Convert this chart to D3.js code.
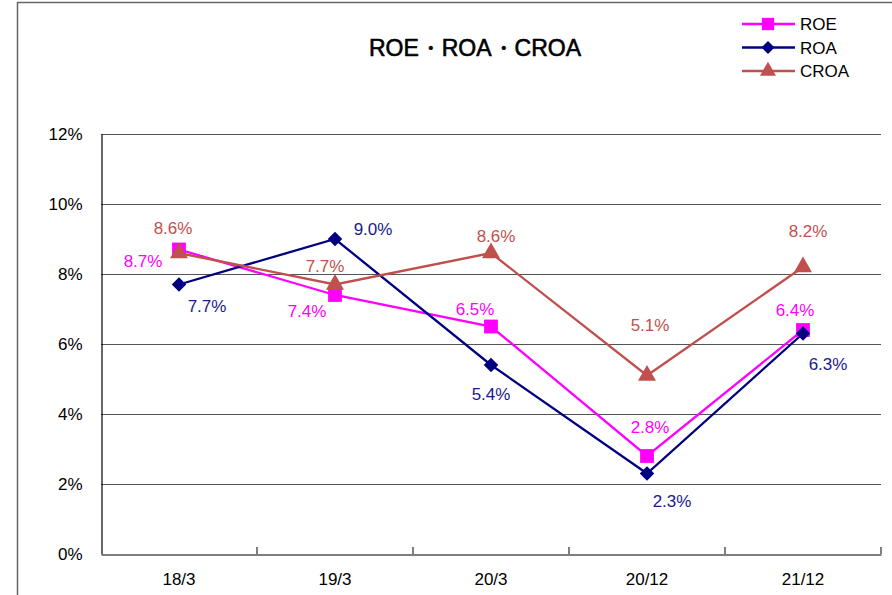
<!DOCTYPE html>
<html>
<head>
<meta charset="utf-8">
<script src="https://cdn.jsdelivr.net/npm/d3@7"></script>
<style>
  body { margin: 0; background: #fff; }
  text { font-family: "Liberation Sans", Arial, sans-serif; }
</style>
</head>
<body>
<div class="chart"></div>
<script>
// ROE / ROA / CROA line chart

let categories = ["18/3", "19/3", "20/3", "20/12", "21/12"];
let roe  = [8.7, 7.4, 6.5, 2.8, 6.4];
let roa  = [7.7, 9.0, 5.4, 2.3, 6.3];
let croa = [8.6, 7.7, 8.6, 5.1, 8.2];
let yTicks = [0, 2, 4, 6, 8, 10, 12];

let svgWidth = 892;
let svgHeight = 595;

let plot = { left: 101, right: 881, top: 134, bottom: 554 };

let svg = d3.select(".chart")
  .append("svg")
  .attr("width", svgWidth)
  .attr("height", svgHeight);

// outer frame (top + left edges visible)
svg.append("path")
  .attr("d", `M17.5,${svgHeight} V2.5 H${svgWidth}`)
  .attr("fill", "none")
  .attr("stroke", "#666")
  .attr("stroke-width", 1.5);

let xScale = d3.scaleBand()
  .domain(categories)
  .range([plot.left, plot.right])
  .padding(0);

let xc = c => xScale(c) + xScale.bandwidth() / 2;

let yScale = d3.scaleLinear()
  .domain([0, 12])
  .range([plot.bottom, plot.top]);

// gridlines
svg.append("g")
  .selectAll("line")
  .data(yTicks.filter(d => d > 0))
  .enter()
  .append("line")
  .attr("x1", plot.left)
  .attr("x2", plot.right)
  .attr("y1", d => Math.round(yScale(d)) + 0.5)
  .attr("y2", d => Math.round(yScale(d)) + 0.5)
  .attr("stroke", "#555")
  .attr("stroke-width", 1.2);

// y axis
let leftAxis = d3.axisLeft(yScale)
  .tickValues(yTicks)
  .tickSize(0)
  .tickPadding(19)
  .tickFormat(d => d + "%");

let yAxisG = svg.append("g")
  .attr("transform", `translate(${plot.left + 0.5},0)`)
  .call(leftAxis);
yAxisG.select(".domain").attr("stroke", "#000").attr("stroke-width", 1.2);
yAxisG.selectAll("text")
  .attr("font-size", 17)
  .attr("fill", "#000")
  .attr("font-family", "Liberation Sans, Arial, sans-serif");

// x axis with ticks between categories, pointing up
let bottomAxis = d3.axisBottom(xScale)
  .tickSize(0)
  .tickPadding(18);

let xAxisG = svg.append("g")
  .attr("transform", `translate(0,${plot.bottom + 0.5})`)
  .call(bottomAxis);
xAxisG.select(".domain").attr("stroke", "#555").attr("stroke-width", 1.5);
xAxisG.selectAll("text")
  .attr("font-size", 17)
  .attr("fill", "#000")
  .attr("font-family", "Liberation Sans, Arial, sans-serif");

svg.append("g")
  .selectAll("line")
  .data(categories)
  .enter()
  .append("line")
  .attr("x1", d => xScale(d) + xScale.bandwidth())
  .attr("x2", d => xScale(d) + xScale.bandwidth())
  .attr("y1", plot.bottom)
  .attr("y2", plot.bottom - 7)
  .attr("stroke", "#000")
  .attr("stroke-width", 1);

// series (diamond = square rotated 45deg)
let series = [
  { name: "ROE",  values: roe,  color: "#FF00FF", labelColor: "#FF00FF", marker: d3.symbolSquare,   size: 190, rot: 0,
    offsets: [[-36, 12], [-28, 16], [-16, -17], [3, -29], [-8, -20]] },
  { name: "ROA",  values: roa,  color: "#000080", labelColor: "#1A1A8C", marker: d3.symbolSquare,   size: 105, rot: 45,
    offsets: [[28, 22], [38, -10], [0, 29], [25, 28], [25, 31]] },
  { name: "CROA", values: croa, color: "#C0504D", labelColor: "#C0504D", marker: d3.symbolTriangle, size: 140, rot: 0,
    offsets: [[-6, -25], [-10, -18], [5, -17], [3, -50], [5, -36]] }
];

let line = d3.line()
  .x((d, i) => xc(categories[i]))
  .y(d => yScale(d));

series.forEach(s => {
  svg.append("path")
    .datum(s.values)
    .attr("d", line)
    .attr("fill", "none")
    .attr("stroke", s.color)
    .attr("stroke-width", 2.3);
});

series.forEach(s => {
  svg.append("g")
    .selectAll("path")
    .data(s.values)
    .enter()
    .append("path")
    .attr("d", d3.symbol().type(s.marker).size(s.size))
    .attr("transform", (d, i) => `translate(${xc(categories[i])},${yScale(d)}) rotate(${s.rot})`)
    .attr("fill", s.color);
});

series.forEach(s => {
  svg.append("g")
    .selectAll("text")
    .data(s.values)
    .enter()
    .append("text")
    .attr("x", (d, i) => xc(categories[i]) + s.offsets[i][0])
    .attr("y", (d, i) => yScale(d) + s.offsets[i][1])
    .attr("dy", "0.35em")
    .attr("text-anchor", "middle")
    .attr("font-size", 17)
    .attr("fill", s.labelColor)
    .text(d => d.toFixed(1) + "%");
});

// title
svg.append("text")
  .attr("x", 475)
  .attr("y", 56)
  .attr("text-anchor", "middle")
  .attr("font-size", 23)
  .attr("fill", "#000")
  .attr("stroke", "#000")
  .attr("stroke-width", 0.6)
  .text("ROE・ROA・CROA");

// legend
let legend = svg.append("g").attr("transform", "translate(742,24)");
series.forEach((s, i) => {
  let g = legend.append("g").attr("transform", `translate(0,${i * 23.5})`);
  g.append("line")
    .attr("x1", 0).attr("x2", 53)
    .attr("stroke", s.color).attr("stroke-width", 2.3);
  g.append("path")
    .attr("d", d3.symbol().type(s.marker).size(s.size * 0.8))
    .attr("transform", `translate(26,0) rotate(${s.rot})`)
    .attr("fill", s.color);
  g.append("text")
    .attr("x", 58)
    .attr("dy", "0.36em")
    .attr("font-size", 17)
    .attr("fill", "#000")
    .text(s.name);
});
</script>
</body>
</html>
